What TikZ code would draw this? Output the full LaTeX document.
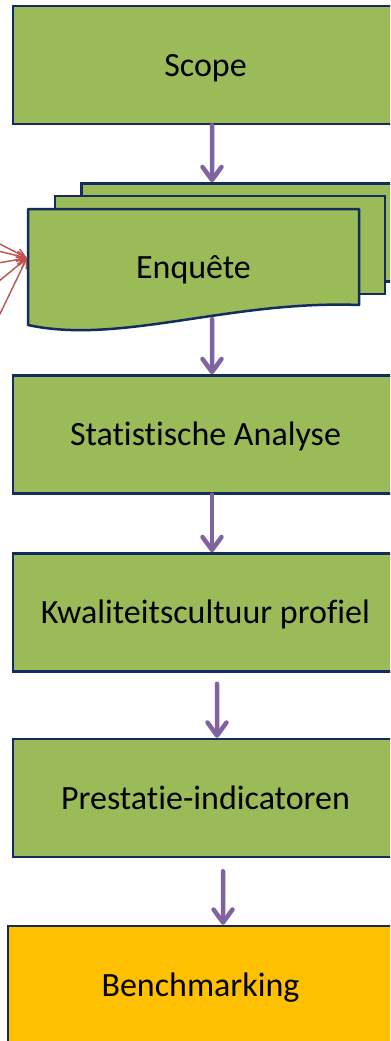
\documentclass[tikz,border=0pt]{standalone}
\usepackage{fontspec}
\setmainfont{Carlito}[Ligatures={NoCommon,NoContextual}]
\usetikzlibrary{arrows.meta,calc}
\definecolor{boxgreen}{HTML}{9BBB59}
\definecolor{boxorange}{HTML}{FFC000}
\definecolor{navy}{HTML}{132C60}
\definecolor{flowpurple}{HTML}{8064A2}
\definecolor{inred}{HTML}{C0504D}
\begin{document}
\begin{tikzpicture}[x=1bp,y=-1bp,
  box/.style={draw=navy, line width=2.5bp, fill=boxgreen, inner sep=0pt,
    minimum width=385bp, minimum height=118bp,
    font=\fontsize{34bp}{40bp}\selectfont, text height=22bp, text depth=0bp},
  sheet/.style={draw=navy, line width=2.5bp, fill=boxgreen, inner sep=0pt,
    minimum width=330bp, minimum height=98bp},
  label/.style={inner sep=0pt, font=\fontsize{34bp}{40bp}\selectfont,
    text height=22bp, text depth=0bp},
  flow/.style={draw=flowpurple, line width=4.5bp, line cap=round,
    -{Straight Barb[length=13bp,width=19bp,line cap=round,line join=round]}},
  feed/.style={draw=inred, line width=1.4bp,
    -{Straight Barb[length=9bp,width=9bp]}}]
\useasboundingbox (0,0) rectangle (390,1041);
\clip (0,0) rectangle (390,1041);

% process steps
\node[box] (scope) at (205.5,65) {Scope};

% stacked survey documents
\node[sheet] (back) at (246.5,232.5) {};
\node[sheet] (mid) at (220,245) {};
\draw[draw=navy, line width=2.5bp, fill=boxgreen, line join=round]
  (28,209) -- (359,209) -- (359,305)
  .. controls (230,300) and (120,345) .. (28,325) -- cycle;
\node[label] (enq) at (193.5,267.5) {Enquête};
\coordinate (enqin) at (27,258);
\coordinate (enqout) at (212,319);

\node[box] (stat) at (205.5,434.5) {Statistische Analyse};
\node[box] (kwal) at (205.5,612.5) {Kwaliteitscultuur profiel};
\node[box] (prest) at (205.5,798) {Prestatie-indicatoren};
\node[box, fill=boxorange] (bench) at (200.5,985) {Benchmarking};

% incoming responses
\coordinate (r1) at (-2,243);
\coordinate (r2) at (-2,251);
\coordinate (r3) at (-2,263);
\coordinate (r4) at (-2,282);
\coordinate (r5) at (-2,318);
\foreach \r in {r1,r2,r3,r4,r5}
  \draw[feed] (\r) -- (enqin);

% flow between steps
\draw[flow] ([xshift=6.5bp]scope.south) -- ([xshift=-34.5bp]back.north);
\draw[flow] (enqout) -- ([xshift=6.5bp]stat.north);
\draw[flow] ([xshift=6.5bp]stat.south) -- ([xshift=6.5bp]kwal.north);
\draw[flow] ($(kwal.south)+(11.5,11)$) -- ([xshift=11.5bp]kwal.south |- prest.north);
\draw[flow] ($(prest.south)+(17.5,13)$) -- ([xshift=22.5bp]bench.north);
\end{tikzpicture}
\end{document}
